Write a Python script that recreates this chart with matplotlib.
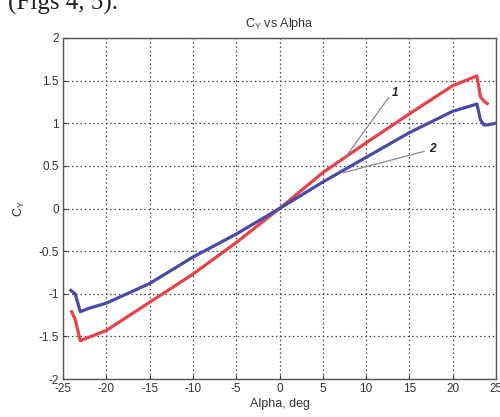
import matplotlib
matplotlib.use('Agg')
import matplotlib.pyplot as plt
import numpy as np

# curve 1 (red)
alpha_1 = [-24.0, -23.6, -23.0, -22.0, -20.0, -15.0, -10.0, -5.0, 0.0, 5.0, 10.0, 15.0, 20.0, 22.8, 23.2, 23.7, 24.0]
cy_1 = [-1.21, -1.30, -1.55, -1.51, -1.43, -1.10, -0.77, -0.40, 0.0, 0.42, 0.77, 1.11, 1.44, 1.555, 1.31, 1.25, 1.23]

# curve 2 (blue)
alpha_2 = [-24.1, -23.6, -23.0, -22.0, -20.0, -15.0, -10.0, -5.0, 0.0, 5.0, 10.0, 15.0, 20.0, 22.8, 23.2, 23.6, 24.0, 25.0]
cy_2 = [-0.96, -1.00, -1.21, -1.17, -1.11, -0.88, -0.57, -0.30, 0.0, 0.31, 0.60, 0.89, 1.14, 1.225, 1.04, 0.98, 0.98, 1.0]

xticks = [-25, -20, -15, -10, -5, 0, 5, 10, 15, 20, 25]
yticks = [-2, -1.5, -1, -0.5, 0, 0.5, 1, 1.5, 2]
ytick_labels = ['-2', '-1.5', '-1', '-0.5', '0', '0.5', '1', '1.5', '2']

plt.rcParams['font.family'] = ['Liberation Sans', 'DejaVu Sans']
plt.rcParams['axes.unicode_minus'] = False

fig = plt.figure(figsize=(5, 4.17), dpi=100)
ax = fig.add_axes([0.126, 0.091, 0.866, 0.818])

ax.plot(alpha_1, cy_1, color='#e8414a', lw=2.3)
ax.plot(alpha_2, cy_2, color='#4a4aa8', lw=2.3)

ax.set_xlim(-25, 25)
ax.set_ylim(-2, 2)
ax.set_xticks(xticks)
ax.set_yticks(yticks)
ax.set_yticklabels(ytick_labels)
ax.tick_params(direction='in', length=3, labelsize=8.5, colors='#333333', pad=3)
ax.grid(True, linestyle=(0, (1.2, 2.2)), color='#444444', lw=0.9)
for s in ax.spines.values():
    s.set_color('#555555')
    s.set_linewidth(1.0)

ax.set_title(r'C$_\mathregular{Y}$ vs Alpha', fontsize=9, color='#333333', pad=8)
ax.set_xlabel('Alpha, deg', fontsize=9, color='#333333', labelpad=2)
ax.set_ylabel(r'C$_\mathregular{Y}$', fontsize=9, color='#333333', labelpad=8)

# leader lines to the curves
ax.plot([12.6, 7.6], [1.30, 0.60], color='#888888', lw=0.9)
ax.plot([16.7, 7.4], [0.67, 0.42], color='#888888', lw=0.9)
ax.text(13.3, 1.36, '1', fontsize=8.5, fontweight='bold', fontstyle='italic', color='#222222',
        ha='center', va='center')
ax.text(17.7, 0.70, '2', fontsize=8.5, fontweight='bold', fontstyle='italic', color='#222222',
        ha='center', va='center')

# page text cut off above the figure
fig.text(0.016, 1 - 10 / 417, '(Figs 4, 5).', fontsize=18, family='Liberation Serif',
         color='#222222', ha='left', va='baseline')

fig.savefig('out.png', dpi=100)
